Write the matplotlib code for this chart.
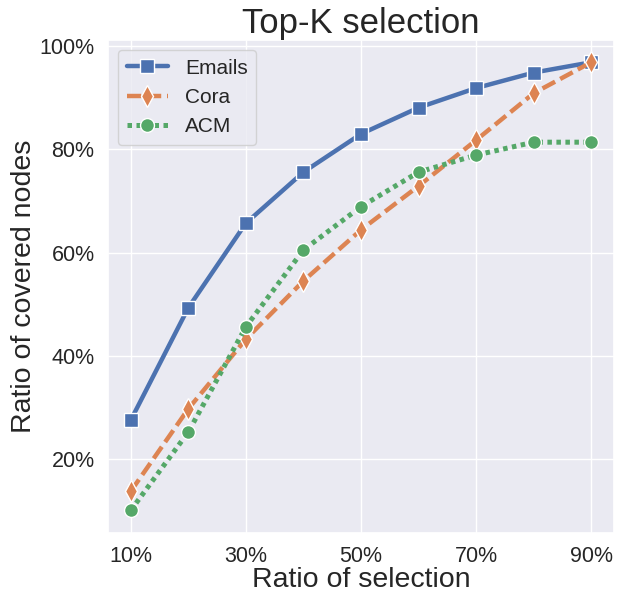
import numpy as np
import matplotlib
matplotlib.use('Agg')
import matplotlib.pyplot as plt
import seaborn as sns
from matplotlib.ticker import PercentFormatter

sns.set_theme(style='darkgrid')
plt.rcParams['font.family'] = ['Liberation Sans', 'DejaVu Sans']

# ratio of selection
ratios = [0.1, 0.2, 0.3, 0.4, 0.5, 0.6, 0.7, 0.8, 0.9]
emails = [0.275, 0.493, 0.657, 0.756, 0.830, 0.881, 0.919, 0.949, 0.969]
cora = [0.137, 0.297, 0.432, 0.545, 0.644, 0.729, 0.818, 0.909, 0.969]
acm = [0.100, 0.252, 0.456, 0.605, 0.689, 0.756, 0.789, 0.814, 0.814]

pal = sns.color_palette('deep')

fig, ax = plt.subplots(figsize=(6.23, 6.04), dpi=100)
fig.subplots_adjust(left=0.173, right=0.986, top=0.934, bottom=0.118)

ax.plot(ratios, emails, color=pal[0], lw=3.2, marker='s', ms=10,
        mec='white', mew=1, label='Emails')
ax.plot(ratios, cora, color=pal[1], lw=3.2, ls=(0, (3.2, 1.3)), marker='d', ms=11,
        mec='white', mew=1, label='Cora')
ax.plot(ratios, acm, color=pal[2], lw=3.6, ls=(0, (0.9, 0.9)), marker='o', ms=10,
        mec='white', mew=1, label='ACM')

ax.set_xticks([0.1, 0.3, 0.5, 0.7, 0.9])
ax.set_yticks([0.2, 0.4, 0.6, 0.8, 1.0])
ax.xaxis.set_major_formatter(PercentFormatter(1.0, decimals=0))
ax.yaxis.set_major_formatter(PercentFormatter(1.0, decimals=0))
ax.tick_params(labelsize=15.5)

ax.set_xlabel('Ratio of selection', fontsize=20.5, labelpad=0)
ax.set_ylabel('Ratio of covered nodes', fontsize=20.5, labelpad=2)
ax.set_title('Top-K selection', fontsize=25, pad=5)
ax.legend(loc='upper left', fontsize=15)

fig.savefig('out.png', dpi=100)
